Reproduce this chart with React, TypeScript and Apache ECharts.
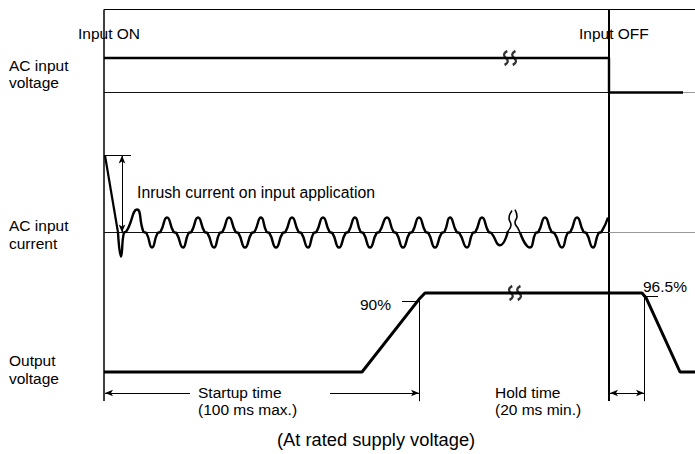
import React, { useEffect, useRef } from "react";
import * as echarts from "echarts";

// ---- time axis (diagram time units, 0 = Input ON) ----
const TIME_END = 591;
const INPUT_ON_T = 0;
const INPUT_OFF_T = 505;

// ---- frame ----
const inputOnLine = [[INPUT_ON_T, 0], [INPUT_ON_T, 1]];
const inputOffLine = [[INPUT_OFF_T, 0], [INPUT_OFF_T, 1]];
const topBorder = [[0, 1], [TIME_END, 1]];

// ---- AC input voltage (0 = off, 1 = on) ----
const acVoltage = [[0, 1], [505, 1], [505, 0], [579, 0]];
const acVoltageZeroOn = [[0, 0], [579, 0]];
const acVoltageZeroOff = [[579, 0], [TIME_END, 0]];
const voltageBreak = [[406, 1]];

// ---- AC input current (steady amplitude = 1) ----
const inrushPeak = 5.13;
const inrushEdge = [[1, 5.13], [14, 0]];
const currentWaveA = [
  [14, 0], [17, -1.6], [20, 0], [22, 0.05], [33, 1.53], [39.5, 0.05], [42.5, -0.05],
  [48, -1], [53.5, -0.05], [56.5, 0.05], [63, 1], [69.5, 0.05], [72.5, -0.05],
  [79, -1], [84.5, -0.05], [87.5, 0.05], [94, 1], [100.5, 0.05], [103.5, -0.05],
  [110, -1], [115.5, -0.05], [118.5, 0.05], [125, 1], [131.5, 0.05], [134.5, -0.05],
  [141, -1], [147.5, -0.05], [150.5, 0.05], [157, 1], [162.5, 0.05], [165.5, -0.05],
  [172, -1], [178.5, -0.05], [181.5, 0.05], [188, 1], [194.5, 0.05], [197.5, -0.05],
  [204, -1], [209.5, -0.05], [212.5, 0.05], [219, 1], [225.5, 0.05], [228.5, -0.05],
  [235, -1], [241.5, -0.05], [244.5, 0.05], [251, 1], [256.5, 0.05], [259.5, -0.05],
  [266, -1], [272.5, -0.05], [275.5, 0.05], [283, 1], [289.5, 0.05], [292.5, -0.05],
  [299, -1], [305.5, -0.05], [308.5, 0.05], [315, 1], [321.5, 0.05], [324.5, -0.05],
  [331, -1], [337.5, -0.05], [340.5, 0.05], [346, 1], [352.5, 0.05], [355.5, -0.05],
  [363, -1], [368.5, -0.05], [371.5, 0.05], [378, 1], [384.5, 0.05], [387.5, -0.05],
  [396, -0.85], [404, 0.1],
];
const currentBreakLeft = [[404, 0.1], [407, 0.5], [405, 0.95], [408, 1.47]];
const currentBreakRight = [[411, 1.53], [413, 1.07], [411, 0.67], [414, 0.27], [416, 0]];
const currentWaveB = [
  [416, 0], [426, -1], [431.5, -0.05], [434.5, 0.05], [441, 1], [447.5, 0.05], [450.5, -0.05],
  [458, -1], [463.5, -0.05], [466.5, 0.05], [473, 1], [479.5, 0.05], [482.5, -0.05],
  [489, -1], [494.5, -0.05], [497.5, 0.05], [504, 1],
];
const currentZeroOn = [[0, 0], [INPUT_OFF_T, 0]];
const currentZeroOff = [[INPUT_OFF_T, 0], [TIME_END, 0]];
const inrushMarkT = 18;
const inrushRefEnd = 27;

// ---- Output voltage (%) ----
const outputVoltage = [
  [0, 0], [258, 0], [315, 92], [321, 100], [538, 100], [542, 94], [576, 0], [TIME_END, 0],
];
const outputBreak = [[411, 100]];
const riseLevel = 90;
const fallLevel = 96.5;
const riseT = 315;
const fallT = 540;
const dimLevel = -26.6;
const extBottom = -37;
const startupLeftEnd = 86;
const startupRightStart = 226;

const FONT = '"Liberation Sans", Arial, Helvetica, sans-serif';
const BREAK_PATH =
  "path://M4,0 C1,2 1,4 3,6 C5,8 5,10 2,12 M10,0 C7,2 7,4 9,6 C11,8 11,10 8,12";

function line(data: number[][], idx: number, width: number, color = "#000", smooth: any = false, extra: any = {}) {
  return {
    type: "line",
    data,
    xAxisIndex: idx,
    yAxisIndex: idx,
    symbol: "none",
    smooth,
    clip: false,
    silent: true,
    lineStyle: { color, width },
    z: 3,
    ...extra,
  };
}

function txt(text: string, x: number, y: number, align = "left", size = 15.5, lh = 18) {
  return {
    type: "text",
    x,
    y,
    silent: true,
    style: {
      text,
      fill: "#000",
      font: `${size}px ${FONT}`,
      textAlign: align,
      textVerticalAlign: "middle",
      align,
      verticalAlign: "middle",
      lineHeight: lh,
    },
  };
}

export default function App() {
  const ref = useRef<HTMLDivElement>(null);
  useEffect(() => {
    document.body.style.margin = "0";
    const chart = echarts.init(ref.current!, undefined, { renderer: "svg" });
    const gl = 104;
    const gw = 591;
    // output grid: 0.79 px per %, y from -40 to 100
    const grids = [
      { left: gl, width: gw, top: 9.5, height: 391.5 },
      { left: gl, width: gw, top: 58, height: 34.5 },
      { left: gl, width: gw, top: 142.5, height: 120 },
      { left: gl, width: gw, top: 293, height: 110.6 },
    ];
    const yRanges = [
      [0, 1],
      [0, 1],
      [-2, 6],
      [-40, 100],
    ];
    const thin = { color: "#000", width: 1, type: "solid" };
    const arrowEnd = { symbol: "arrow", symbolSize: [5, 8] };
    const option: any = {
      animation: false,
      backgroundColor: "#fff",
      grid: grids,
      xAxis: grids.map((_, i) => ({ type: "value", gridIndex: i, min: 0, max: TIME_END, show: false })),
      yAxis: yRanges.map((r, i) => ({ type: "value", gridIndex: i, min: r[0], max: r[1], show: false })),
      series: [
        // frame
        line(inputOnLine, 0, 1.5),
        line(inputOffLine, 0, 2),
        line(topBorder, 0, 1.1),
        // AC voltage
        line(acVoltageZeroOn, 1, 1, "#111"),
        line(acVoltageZeroOff, 1, 1, "#999"),
        line(acVoltage, 1, 2.4),
        {
          type: "scatter",
          data: voltageBreak,
          xAxisIndex: 1,
          yAxisIndex: 1,
          symbol: BREAK_PATH,
          symbolSize: [12, 14],
          clip: false,
          silent: true,
          itemStyle: { color: "none", borderColor: "#000", borderWidth: 2.4 },
          z: 5,
        },
        // AC current
        line(currentZeroOn, 2, 1, "#111"),
        line(currentZeroOff, 2, 1, "#999"),
        line(inrushEdge, 2, 2.2, "#000", false, {
          markLine: {
            silent: true,
            animation: false,
            label: { show: false },
            lineStyle: thin,
            symbol: ["none", "none"],
            data: [
              [
                { coord: [0, inrushPeak], symbol: "none" },
                { coord: [inrushRefEnd, inrushPeak], symbol: "none" },
              ],
              [
                { coord: [inrushMarkT, inrushPeak], ...arrowEnd },
                { coord: [inrushMarkT, 0], ...arrowEnd },
              ],
            ],
          },
        }),
        line(currentWaveA, 2, 2.4, "#000", 0.55),
        line(currentBreakLeft, 2, 1.6, "#000", 0.5),
        line(currentBreakRight, 2, 1.6, "#000", 0.5),
        line(currentWaveB, 2, 2.4, "#000", 0.55),
        // Output voltage
        line(outputVoltage, 3, 3, "#000", false, {
          markLine: {
            silent: true,
            animation: false,
            label: { show: false },
            lineStyle: thin,
            symbol: ["none", "none"],
            data: [
              [{ coord: [riseT - 17, riseLevel], symbol: "none" }, { coord: [riseT - 1, riseLevel], symbol: "none" }],
              [{ coord: [riseT, riseLevel], symbol: "none" }, { coord: [riseT, extBottom], symbol: "none" }],
              [{ coord: [fallT - 1, fallLevel], symbol: "none" }, { coord: [fallT + 14, fallLevel], symbol: "none" }],
              [{ coord: [fallT, fallLevel], symbol: "none" }, { coord: [fallT, extBottom], symbol: "none" }],
              [
                { coord: [INPUT_ON_T + 1, dimLevel], ...arrowEnd },
                { coord: [startupLeftEnd, dimLevel], symbol: "none" },
              ],
              [
                { coord: [startupRightStart, dimLevel], symbol: "none" },
                { coord: [riseT, dimLevel], ...arrowEnd },
              ],
              [
                { coord: [INPUT_OFF_T + 1, dimLevel], ...arrowEnd },
                { coord: [fallT, dimLevel], ...arrowEnd },
              ],
            ],
          },
        }),
        {
          type: "scatter",
          data: outputBreak,
          xAxisIndex: 3,
          yAxisIndex: 3,
          symbol: BREAK_PATH,
          symbolSize: [12, 14],
          clip: false,
          silent: true,
          itemStyle: { color: "none", borderColor: "#000", borderWidth: 2.4 },
          z: 5,
        },
      ],
      graphic: [
        txt("Input ON", 78, 33),
        txt("Input OFF", 579, 33),
        txt("AC input\nvoltage", 9, 73.5, "left", 15.5, 17),
        txt("AC input\ncurrent", 9, 234, "left", 15.5, 18),
        txt("Output\nvoltage", 9, 369, "left", 15.5, 18),
        txt("Inrush current on input application", 137, 192, "left", 15.8),
        txt("90%", 391, 304, "right"),
        txt("96.5%", 643, 286),
        txt("Startup time\n(100 ms max.)", 198, 400.5, "left", 15.5, 17),
        txt("Hold time\n(20 ms min.)", 495, 400.5, "left", 15.5, 17),
        txt("(At rated supply voltage)", 277, 439, "left", 18.3),
      ],
    };
    chart.setOption(option);
    return () => chart.dispose();
  }, []);
  return <div ref={ref} style={{ width: 695, height: 454 }} />;
}
